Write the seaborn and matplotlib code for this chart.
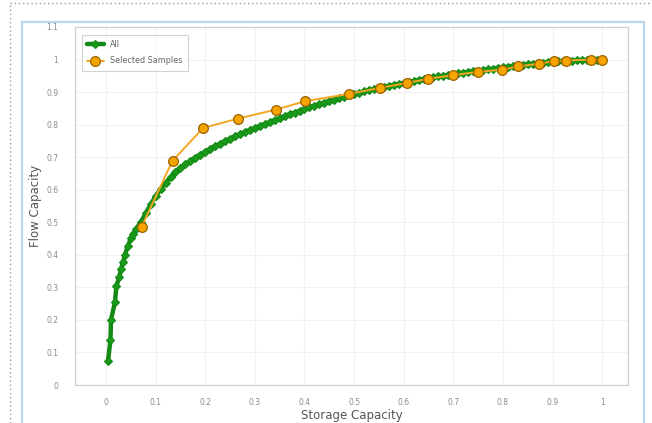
import matplotlib
matplotlib.use("Agg")
import matplotlib.pyplot as plt
import seaborn as sns
from matplotlib.lines import Line2D
from matplotlib.patches import Rectangle

# ---- data ----
all_x = [0.004, 0.009, 0.010, 0.018, 0.021, 0.027, 0.030, 0.035, 0.038, 0.044,
         0.050, 0.055,
         0.06, 0.07, 0.08, 0.09, 0.10, 0.11, 0.12, 0.13, 0.14, 0.15,
         0.16, 0.17, 0.18, 0.19, 0.20, 0.21, 0.22, 0.23, 0.24, 0.25,
         0.26, 0.27, 0.28, 0.29, 0.30, 0.31, 0.32, 0.33, 0.34, 0.35,
         0.36, 0.37, 0.38, 0.39, 0.40, 0.41, 0.42, 0.43, 0.44, 0.45,
         0.46, 0.47, 0.48, 0.49, 0.50, 0.51, 0.52, 0.53, 0.54, 0.55,
         0.56, 0.57, 0.58, 0.59, 0.60, 0.61, 0.62, 0.63, 0.64, 0.65,
         0.66, 0.67, 0.68, 0.69, 0.70, 0.71, 0.72, 0.73, 0.74, 0.75,
         0.76, 0.77, 0.78, 0.79, 0.80, 0.81, 0.82, 0.83, 0.84, 0.85,
         0.86, 0.87, 0.88, 0.89, 0.90, 0.91, 0.92, 0.93, 0.94, 0.95,
         0.96, 0.97, 0.98, 0.99, 1.00]
all_y = [0.074, 0.138, 0.200, 0.254, 0.305, 0.333, 0.356, 0.379, 0.400, 0.426,
         0.451, 0.465,
         0.478, 0.500, 0.527, 0.555, 0.580, 0.602, 0.621, 0.638, 0.653, 0.666,
         0.678, 0.689, 0.699, 0.708, 0.717, 0.726, 0.734, 0.742, 0.750, 0.757,
         0.764, 0.771, 0.778, 0.784, 0.790, 0.796, 0.802, 0.808, 0.814, 0.820,
         0.826, 0.832, 0.837, 0.842, 0.848, 0.853, 0.858, 0.863, 0.868, 0.872,
         0.877, 0.881, 0.886, 0.890, 0.894, 0.898, 0.902, 0.906, 0.909, 0.913,
         0.916, 0.919, 0.922, 0.925, 0.928, 0.931, 0.934, 0.937, 0.940, 0.943,
         0.945, 0.948, 0.950, 0.953, 0.955, 0.958, 0.960, 0.962, 0.964, 0.966,
         0.968, 0.970, 0.972, 0.974, 0.976, 0.978, 0.980, 0.982, 0.984, 0.986,
         0.987, 0.989, 0.990, 0.992, 0.993, 0.994, 0.995, 0.996, 0.997, 0.998,
         0.999, 0.999, 1.000, 1.000, 1.000]

sel_x = [0.072, 0.134, 0.196, 0.265, 0.342, 0.401, 0.489, 0.552, 0.607, 0.649,
         0.700, 0.749, 0.799, 0.831, 0.872, 0.903, 0.927, 0.978, 1.000]
sel_y = [0.487, 0.689, 0.790, 0.818, 0.846, 0.872, 0.894, 0.913, 0.928, 0.941,
         0.952, 0.962, 0.969, 0.979, 0.987, 0.995, 0.997, 1.000, 1.000]

x_ticks = [0, 0.1, 0.2, 0.3, 0.4, 0.5, 0.6, 0.7, 0.8, 0.9, 1]
x_labels = ["0", "0.1", "0.2", "0.3", "0.4", "0.5", "0.6", "0.7", "0.8", "0.9", "1"]
y_ticks = [0, 0.1, 0.2, 0.3, 0.4, 0.5, 0.6, 0.7, 0.8, 0.9, 1.0, 1.1]
y_labels = ["0", "0.1", "0.2", "0.3", "0.4", "0.5", "0.6", "0.7", "0.8", "0.9", "1", "1.1"]

series_names = ["All", "Selected Samples"]

# ---- figure ----
sns.set_style("white")
plt.rcParams["font.family"] = ["DejaVu Sans"]

W, H = 652, 423
fig = plt.figure(figsize=(W / 100, H / 100), dpi=100)
fig.patch.set_facecolor("white")

# outer dotted border (top & left visible) and light blue card frame
fig.add_artist(Line2D([10 / W, 10 / W], [0, 1 - 3 / H], transform=fig.transFigure,
                      color="#9a9a9a", lw=1.0, ls=(0, (1, 2))))
fig.add_artist(Line2D([10 / W, 1], [1 - 3 / H, 1 - 3 / H], transform=fig.transFigure,
                      color="#9a9a9a", lw=1.0, ls=(0, (1, 2))))
fig.add_artist(Rectangle((22 / W, -0.05), (644 - 22) / W, 1.05 - 22 / H,
                         transform=fig.transFigure, fill=False,
                         edgecolor="#bcd6ee", lw=1.6))

ax = fig.add_axes([75 / W, (H - 385) / H, (628 - 75) / W, (385 - 27) / H])
ax.set_facecolor("white")

sns.lineplot(x=all_x, y=all_y, ax=ax, sort=False, color="#138a13",
             linewidth=3.2, marker="D", markersize=4, markeredgewidth=0.8,
             markeredgecolor="#138a13", markerfacecolor="#1a9a1a",
             label=series_names[0], zorder=3)
sns.lineplot(x=sel_x, y=sel_y, ax=ax, sort=False, color="#f5a623",
             linewidth=1.4, marker="o", markersize=7, markeredgewidth=0.9,
             markeredgecolor="#9a6200", markerfacecolor="#f7a400",
             label=series_names[1], zorder=4)

ax.set_xlim(-0.0625, 1.052)
ax.set_ylim(0, 1.1)
ax.set_xticks(x_ticks)
ax.set_xticklabels(x_labels)
ax.set_yticks(y_ticks)
ax.set_yticklabels(y_labels)
ax.tick_params(axis="both", labelsize=5.5, colors="#8a8a8a", length=3,
               width=0.6, direction="out", pad=6)
ax.tick_params(axis="y", pad=9)
ax.grid(True, color="#f1f1f1", lw=0.8)
for s in ax.spines.values():
    s.set_color("#cfcfcf")
    s.set_linewidth(0.9)

ax.set_xlabel("Storage Capacity", fontsize=8.5, color="#555555", labelpad=2)
ax.set_ylabel("Flow Capacity", fontsize=8.5, color="#555555", labelpad=3)

leg = ax.legend(loc="upper left", fontsize=5.8, frameon=True, fancybox=False,
                borderpad=0.7, handlelength=2.0, labelspacing=0.9,
                bbox_to_anchor=(0.005, 0.99))
leg.get_frame().set_edgecolor("#c8c8c8")
leg.get_frame().set_linewidth(0.8)
for t in leg.get_texts():
    t.set_color("#666666")

fig.savefig("out.png", dpi=100)
